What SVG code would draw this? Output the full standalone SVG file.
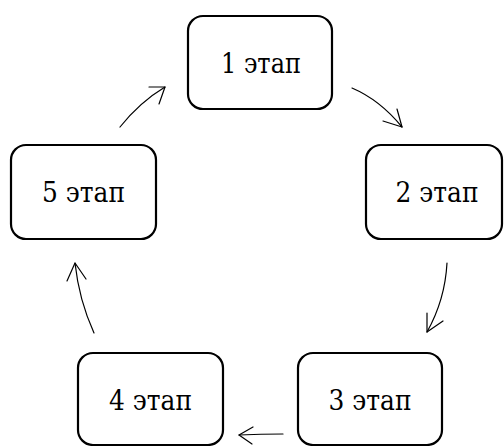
<svg xmlns="http://www.w3.org/2000/svg" width="504" height="446" viewBox="0 0 504 446">
<style>
.box{fill:#fff;stroke:#000;stroke-width:2.2}
text{font-family:'DejaVu Serif',serif;font-size:28px;fill:#000;text-anchor:middle}
.c{fill:none;stroke:#000;stroke-width:1.2;stroke-linecap:round;stroke-linejoin:round}
</style>
<rect width="504" height="446" fill="#fff"/>
<g id="node1"><rect class="box" x="188" y="16" width="144" height="93" rx="15"/><text x="261" y="73" textLength="80" lengthAdjust="spacingAndGlyphs">1 этап</text></g>
<g id="node2"><rect class="box" x="366" y="145" width="136" height="94" rx="15"/><text x="437" y="202" textLength="83" lengthAdjust="spacingAndGlyphs">2 этап</text></g>
<g id="node3"><rect class="box" x="298" y="353" width="144" height="92" rx="15"/><text x="370" y="410" textLength="83" lengthAdjust="spacingAndGlyphs">3 этап</text></g>
<g id="node4"><rect class="box" x="78" y="353" width="145" height="92" rx="15"/><text x="150.5" y="410" textLength="83" lengthAdjust="spacingAndGlyphs">4 этап</text></g>
<g id="node5"><rect class="box" x="11" y="145" width="145" height="94" rx="15"/><text x="83.5" y="202" textLength="83" lengthAdjust="spacingAndGlyphs">5 этап</text></g>
<g id="connectors">
<path class="c" d="M352,88 Q380,100 402,127"/><path class="c" d="M383,121 L402,127 L397,109"/>
<path class="c" d="M447,263 Q445,300 427,332"/><path class="c" d="M443,321 L427,332 L427,313"/>
<path class="c" d="M283,434 Q261,434 239,435"/><path class="c" d="M253,427 L239,435 L252,444"/>
<path class="c" d="M94,333 Q79,300 75,263"/><path class="c" d="M67,281 L75,263 L86,279"/>
<path class="c" d="M120,127 Q140,102 165,87"/><path class="c" d="M149,87 L165,87 L159,104"/>
</g>
</svg>
